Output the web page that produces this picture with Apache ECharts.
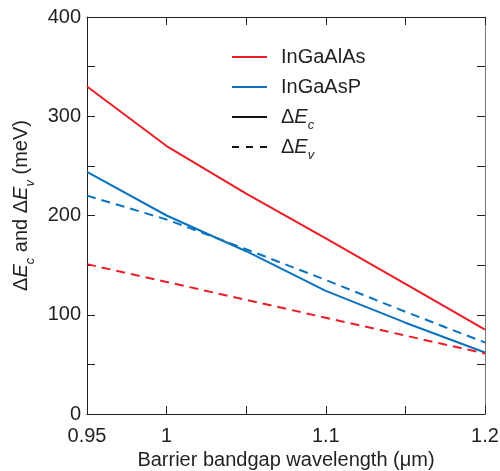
<!DOCTYPE html>
<html><head><meta charset="utf-8">
<script src="https://cdn.jsdelivr.net/npm/echarts@6/dist/echarts.min.js"></script>
<style>html,body{margin:0;padding:0;background:#fff}#c{width:500px;height:471px}</style>
</head><body><div id="c"></div>
<script>
const wavelength = [0.95, 1.0, 1.05, 1.1, 1.15, 1.2];
const inGaAlAsEc = [330, 270, 222, 177, 131, 85];
const inGaAlAsEv = [151, 133, 115, 97, 79, 61];
const inGaAsPEc = [244, 200, 164, 124, 92, 62];
const inGaAsPEv = [220, 196, 166, 135, 103, 72];
const xTickLabels = ['0.95', '1', '1.1', '1.2'];
const yTickLabels = ['0', '100', '200', '300', '400'];

const RED = '#ec1c24', BLUE = '#0b73bd', INK = '#231f20';
const FONT = 'Liberation Sans, Arial, Helvetica, sans-serif';
const zip = (xs, ys) => xs.map((x, i) => [x, ys[i]]);

const chart = echarts.init(document.getElementById('c'), null, {renderer: 'canvas'});
const dashed = [9, 6];
const subRich = {
  n: {fontSize: 20, fontFamily: FONT, color: INK, lineHeight: 30},
  e: {fontSize: 20, fontFamily: FONT, color: INK, fontStyle: 'italic', lineHeight: 30},
  s: {fontSize: 13, fontFamily: FONT, color: INK, fontStyle: 'italic', lineHeight: 10, verticalAlign: 'bottom'}
};
function xAx(pos, show) {
  return {
    type: 'value', position: pos, min: 0.95, max: 1.2, interval: 0.05,
    axisLine: {show: true, onZero: false, lineStyle: {color: INK, width: 1}},
    axisTick: {show: true, inside: true, length: 8, lineStyle: {color: INK}},
    splitLine: {show: false},
    axisLabel: {
      show: show, margin: 12, fontSize: 20, fontFamily: FONT, color: INK,
      formatter: v => { const s = String(Math.round(v * 100) / 100); return xTickLabels.includes(s) ? s : ''; }
    },
    name: show ? 'Barrier bandgap wavelength (μm)' : '',
    nameLocation: 'middle', nameGap: 34,
    nameTextStyle: {fontSize: 20, fontFamily: FONT, color: INK}
  };
}
function yAx(pos, show) {
  return {
    type: 'value', position: pos, min: 0, max: 400, interval: 50,
    axisLine: {show: true, onZero: false, lineStyle: {color: show ? INK : '#777', width: 1}},
    axisTick: {show: true, inside: true, length: 8, lineStyle: {color: INK}},
    splitLine: {show: false},
    axisLabel: {
      show: show, margin: 6, fontSize: 20, fontFamily: FONT, color: INK,
      formatter: v => { const s = String(Math.round(v)); return yTickLabels.includes(s) ? s : ''; }
    },
    name: show ? '{n|Δ}{e|E}{s|c}{n| and Δ}{e|E}{s|v}{n| (meV)}' : '',
    nameLocation: 'middle', nameGap: 50,
    nameTextStyle: {padding: [0, 0, 0, 20], rich: subRich}
  };
}
const solidIcon = 'path://M0,0h35v2h-35z';
const dashIcon = 'path://M0,0h7v2h-7zM14,0h7v2h-7zM28,0h7v2h-7z';
chart.setOption({
  animation: false,
  backgroundColor: '#fff',
  grid: {left: 87, right: 15, top: 17, bottom: 57, outerBoundsMode: 'none', containLabel: false},
  xAxis: [xAx('bottom', true), xAx('top', false)],
  yAxis: [yAx('left', true), yAx('right', false)],
  legend: {
    orient: 'vertical', left: 232, top: 42, padding: 0, itemWidth: 35, itemHeight: 2, itemGap: 0,
    data: [
      {name: 'InGaAlAs', icon: solidIcon},
      {name: 'InGaAsP', icon: solidIcon},
      {name: 'dEc', icon: solidIcon},
      {name: 'dEv', icon: dashIcon}
    ],
    textStyle: {fontSize: 20, fontFamily: FONT, color: INK, lineHeight: 30, padding: [0, 0, 0, 9], rich: subRich},
    formatter: name => {
      if (name === 'dEc') return '{n|Δ}{e|E}{s|c}';
      if (name === 'dEv') return '{n|Δ}{e|E}{s|v}';
      return name;
    },
    selectedMode: false
  },
  series: [
    {name: 'InGaAlAs', type: 'line', data: zip(wavelength, inGaAlAsEc), symbol: 'none', lineStyle: {color: RED, width: 2}, itemStyle: {color: RED}},
    {name: 'InGaAsP', type: 'line', data: zip(wavelength, inGaAsPEc), symbol: 'none', lineStyle: {color: BLUE, width: 2}, itemStyle: {color: BLUE}},
    {name: 'InGaAlAs', type: 'line', data: zip(wavelength, inGaAlAsEv), symbol: 'none', lineStyle: {color: RED, width: 2, type: dashed}, itemStyle: {color: RED}},
    {name: 'InGaAsP', type: 'line', data: zip(wavelength, inGaAsPEv), symbol: 'none', lineStyle: {color: BLUE, width: 2, type: dashed}, itemStyle: {color: BLUE}},
    {name: 'dEc', type: 'line', data: [], symbol: 'none', lineStyle: {color: '#111', width: 3}, itemStyle: {color: '#111'}},
    {name: 'dEv', type: 'line', data: [], symbol: 'none', lineStyle: {color: '#111', width: 2, type: [6, 5]}, itemStyle: {color: '#111'}}
  ]
});
</script></body></html>
